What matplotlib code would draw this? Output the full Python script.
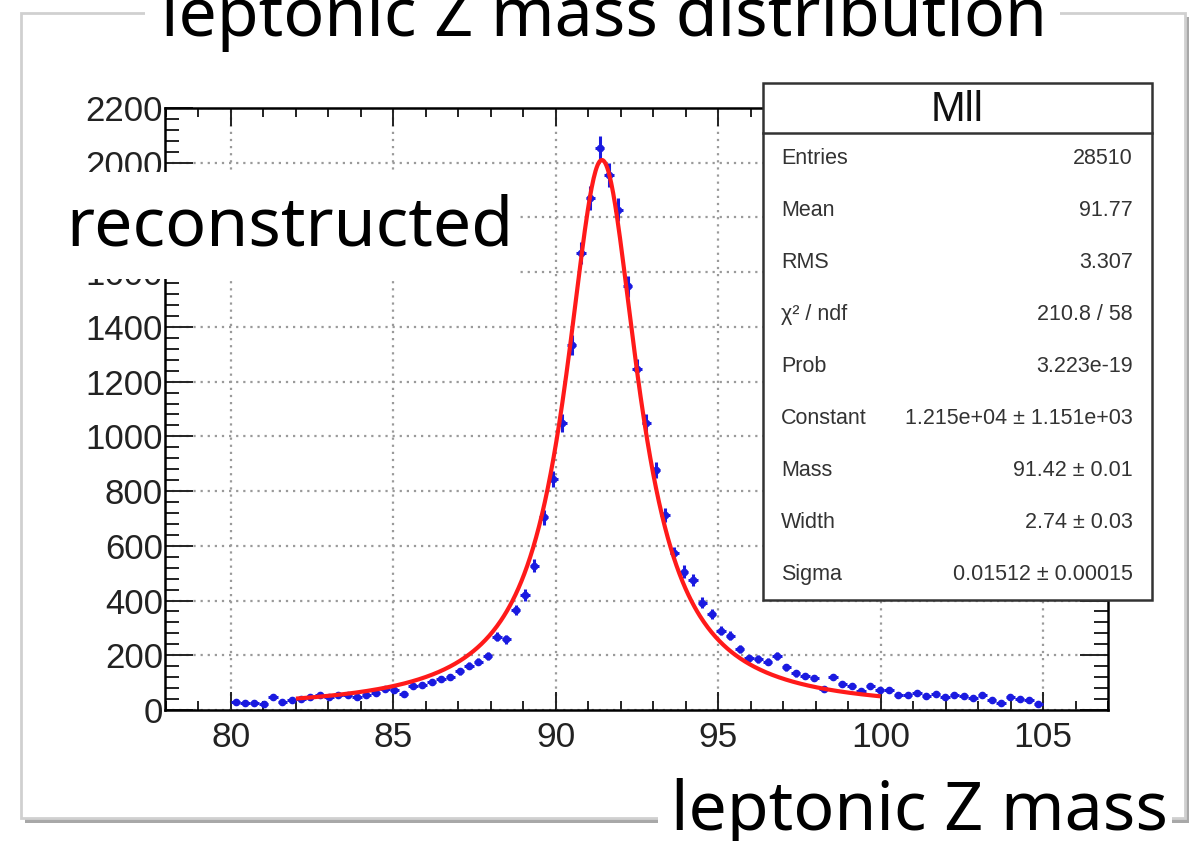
import numpy as np
import matplotlib
matplotlib.use("Agg")
import matplotlib.pyplot as plt
from matplotlib.patches import Rectangle
from matplotlib.lines import Line2D
from matplotlib.ticker import MultipleLocator, FixedLocator

W, H = 1204, 841

# ---------------- data ----------------
hist_lo, hist_hi, n_bins = 80.0, 105.0, 87
counts = [30, 24, 27, 21, 46, 30, 38, 42, 48, 54,
          48, 54, 54, 48, 54, 62, 78, 72, 60, 88,
          92, 104, 113, 122, 141, 161, 177, 198, 268, 258,
          366, 420, 528, 704, 845, 1050, 1334, 1670, 1871, 2054,
          1956, 1828, 1548, 1246, 1048, 877, 713, 573, 506, 475,
          392, 352, 290, 272, 223, 189, 186, 177, 197, 156,
          134, 124, 116, 76, 122, 95, 88, 70, 88, 72,
          73, 55, 55, 62, 52, 59, 48, 55, 50, 44,
          55, 37, 27, 46, 40, 37, 22]

fit_mass = 91.42
fit_width = 2.74
fit_peak = 2010
fit_lo, fit_hi = 82.0, 100.0

x_ticks = [80, 85, 90, 95, 100, 105]
y_ticks = [0, 200, 400, 600, 800, 1000, 1200, 1400, 1600, 1800, 2000, 2200]

stats_title = "Mll"
stats_labels = ["Entries", "Mean", "RMS", "χ² / ndf", "Prob",
                "Constant", "Mass", "Width", "Sigma"]
stats_values = ["28510", "91.77", "3.307", "210.8 / 58", "3.223e-19",
                "1.215e+04 ± 1.151e+03", "91.42 ± 0.01", "2.74 ± 0.03",
                "0.01512 ± 0.00015"]

title_text = "leptonic Z mass distribution"
ylabel_text = "reconstructed"
xlabel_text = "leptonic Z mass"

# ---------------- helpers ----------------
fig = plt.figure(figsize=(W / 100, H / 100), dpi=100)
fig.patch.set_facecolor("white")


def fx(px):
    return px / W


def fy(py):
    return 1 - py / H


def frect(x0, y0, x1, y1, **kw):
    r = Rectangle((fx(x0), fy(y1)), (x1 - x0) / W, (y1 - y0) / H,
                  transform=fig.transFigure, **kw)
    fig.add_artist(r)
    return r


# outer panel with shadow
frect(25, 17, 1189, 823, facecolor="#a8a8a8", edgecolor="none", zorder=-3)
frect(21, 13, 1185, 818, facecolor="white", edgecolor="#d0d0d0", lw=2.0, zorder=-2)

# ---------------- axes ----------------
ax = fig.add_axes([fx(165), fy(710), (1108 - 165) / W, (710 - 108) / H])
ax.set_facecolor("none")
ax.set_xlim(77.97, 107.0)
ax.set_ylim(0, 2200)

for s in ax.spines.values():
    s.set_linewidth(1.8)
    s.set_color("black")

ax.xaxis.set_major_locator(FixedLocator(x_ticks))
ax.yaxis.set_major_locator(FixedLocator(y_ticks))
ax.xaxis.set_minor_locator(MultipleLocator(1))
ax.yaxis.set_minor_locator(MultipleLocator(40))
ax.tick_params(which="both", direction="in", top=True, right=True,
               width=1.4, color="#222222")
ax.tick_params(axis="y", which="major", length=20, pad=1.5,
               labelsize=25, labelcolor="#222222")
ax.tick_params(axis="y", which="minor", length=10)
ax.tick_params(axis="x", which="major", length=13, pad=8,
               labelsize=25.5, labelcolor="#222222")
ax.tick_params(axis="x", which="minor", length=6.5)
for lab in ax.get_xticklabels() + ax.get_yticklabels():
    lab.set_family("Liberation Sans")

ax.grid(True, which="major", color="#9a9a9a", linestyle=(0, (1, 2.2)),
        linewidth=1.6)
ax.set_axisbelow(True)

edges = np.linspace(hist_lo, hist_hi, n_bins + 1)
centers = 0.5 * (edges[:-1] + edges[1:])
bw = edges[1] - edges[0]
cnt = np.array(counts, dtype=float)
blue = "#1a1ae0"
ax.errorbar(centers, cnt, xerr=bw / 2, yerr=np.sqrt(cnt), fmt="o", ms=4.5,
            color=blue, ecolor=blue, elinewidth=2.2, capsize=0, zorder=3)

xf = np.linspace(fit_lo, fit_hi, 600)
g2 = (fit_width / 2) ** 2
yf = fit_peak * g2 / ((xf - fit_mass) ** 2 + g2)
ax.plot(xf, yf, color="#ff1a1a", lw=3.0, zorder=4, solid_capstyle="butt")

# ---------------- stats box ----------------
frect(763, 83, 1152, 600, facecolor="white", edgecolor="#333333", lw=1.8, zorder=5)
fig.add_artist(Line2D([fx(763), fx(1152)], [fy(133), fy(133)],
                      transform=fig.transFigure, color="#333333", lw=1.8, zorder=6))
fig.text(fx(957), fy(110), stats_title, ha="center", va="center", fontsize=30,
         family="Liberation Sans", color="#111111", zorder=6)
row_top, row_h = 133, (600 - 133) / len(stats_labels)
for i, (lab, val) in enumerate(zip(stats_labels, stats_values)):
    yc = row_top + (i + 0.5) * row_h
    fig.text(fx(781), fy(yc), lab, ha="left", va="center", fontsize=15.5,
             family="Liberation Sans", color="#333333", zorder=6)
    fig.text(fx(1133), fy(yc), val, ha="right", va="center", fontsize=15.5,
             family="Liberation Sans", color="#333333", zorder=6)

# ---------------- overlay labels ----------------
frect(145, 0, 1060, 45, facecolor="white", edgecolor="none", zorder=7)
fig.text(fx(161), fy(36), title_text, ha="left", va="baseline", fontsize=49,
         family="Noto Sans", color="black", zorder=8)

frect(48, 172, 520, 279, facecolor="white", edgecolor="none", zorder=7)
fig.text(fx(66), fy(246), ylabel_text, ha="left", va="baseline", fontsize=49,
         family="Noto Sans", color="black", zorder=8)

frect(658, 766, 1172, 841, facecolor="white", edgecolor="none", zorder=7)
fig.text(fx(671), fy(830), xlabel_text, ha="left", va="baseline", fontsize=49,
         family="Noto Sans", color="black", zorder=8)

fig.savefig("out.png", dpi=100)
